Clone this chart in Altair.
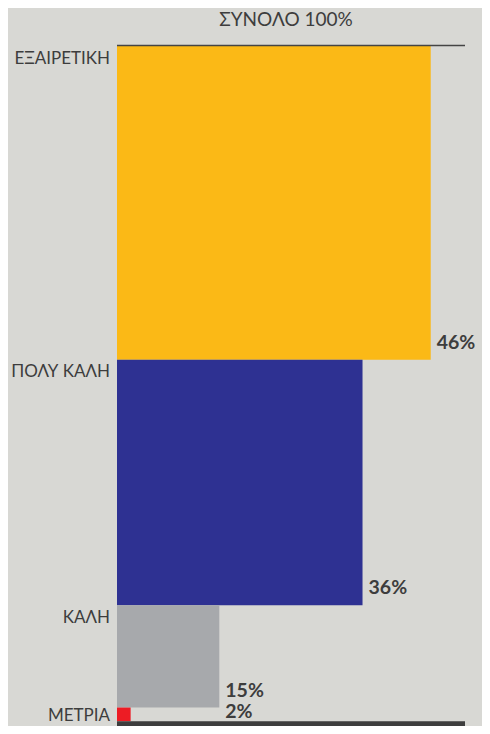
import altair as alt
import pandas as pd

categories = ["ΕΞΑΙΡΕΤΙΚΗ", "ΠΟΛΥ ΚΑΛΗ", "ΚΑΛΗ", "ΜΕΤΡΙΑ"]
values = [46, 36, 15, 2]
labels = ["46%", "36%", "15%", "2%"]
colors = ["#FBB916", "#2E3192", "#A7A9AC", "#ED1C24"]
total_label = "ΣΥΝΟΛΟ 100%"

df = pd.DataFrame({"cat": categories, "value": values, "label": labels})
df["y1"] = df["value"].cumsum()
df["y0"] = df["y1"] - df["value"]
df["x0"] = 0
# small labels are pushed under the previous label
df["lx"] = df["value"].where(df["value"] >= 5, df["value"].shift(1))
total = int(df["value"].sum())
df_total = pd.DataFrame({"top": [0], "bottom": [total], "title": [total_label]})

W, H = 474, 718
PX = 6.82
LEFT = 109
TOP = 38
xs = alt.Scale(domain=[0, 100], range=[LEFT, LEFT + 100 * PX])
ys = alt.Scale(domain=[0, 100], range=[TOP, TOP + 100 * PX])
FONT = "Lato"
TXT = "#3d3d3d"

base = alt.Chart(df)

bars = base.mark_rect().encode(
    x=alt.X("x0:Q", scale=xs, axis=None),
    x2="value:Q",
    y=alt.Y("y0:Q", scale=ys, axis=None),
    y2="y1:Q",
    color=alt.Color("cat:N", scale=alt.Scale(domain=categories, range=colors), legend=None),
)

top_rule = alt.Chart(df_total).mark_rule(color="#444444", strokeWidth=1.5, yOffset=-0.5).encode(
    x=alt.value(LEFT), x2=alt.value(457), y=alt.Y("top:Q", scale=ys, axis=None)
)
bottom_rule = alt.Chart(df_total).mark_rule(color="#3d3d3d", strokeWidth=6, yOffset=3).encode(
    x=alt.value(LEFT), x2=alt.value(457), y=alt.Y("bottom:Q", scale=ys, axis=None)
)
title = alt.Chart(df_total).mark_text(
    align="center", baseline="alphabetic", font=FONT, fontSize=19, color=TXT
).encode(x=alt.value(278), y=alt.value(18), text="title:N")

val_big = base.transform_filter("datum.value >= 5").mark_text(
    align="left", baseline="alphabetic", dx=6, dy=-11, font=FONT, fontWeight="bold", fontSize=19.5, color=TXT
).encode(x=alt.X("lx:Q", scale=xs), y=alt.Y("y1:Q", scale=ys), text="label:N")
val_small = base.transform_filter("datum.value < 5").mark_text(
    align="left", baseline="alphabetic", dx=6, dy=-3, font=FONT, fontWeight="bold", fontSize=19.5, color=TXT
).encode(x=alt.X("lx:Q", scale=xs), y=alt.Y("y1:Q", scale=ys), text="label:N")

cat_big = base.transform_filter("datum.value >= 5").mark_text(
    align="right", baseline="alphabetic", dx=-7, dy=17.5, font=FONT, fontSize=17, color=TXT
).encode(x=alt.X("x0:Q", scale=xs), y=alt.Y("y0:Q", scale=ys), text="cat:N")
cat_small = base.transform_filter("datum.value < 5").mark_text(
    align="right", baseline="alphabetic", dx=-7, dy=0, font=FONT, fontSize=17, color=TXT
).encode(x=alt.X("x0:Q", scale=xs), y=alt.Y("y1:Q", scale=ys), text="cat:N")

chart = alt.layer(bars, top_rule, bottom_rule, title, val_big, val_small, cat_big, cat_small).properties(
    width=W,
    height=H,
    padding=0,
    autosize=alt.AutoSizeParams(type="none"),
    background="#d8d8d4",
).configure_view(stroke=None)

chart.save("out.html", embed_options={"renderer": "svg", "actions": False})
